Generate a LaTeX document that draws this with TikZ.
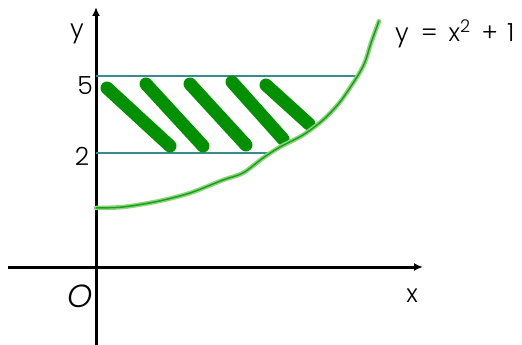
\documentclass[tikz,border=0pt]{standalone}
\usepackage{fontspec}
\setmainfont{Poppins}[UprightFont=* Light,ItalicFont=* Light Italic]
\usetikzlibrary{arrows.meta}
\definecolor{teal1}{HTML}{3A8C8C}
\definecolor{hatch}{HTML}{009000}
\definecolor{curvelight}{HTML}{8AD67A}
\definecolor{curvedark}{HTML}{1E9E1E}
\begin{document}
\begin{tikzpicture}[x=1pt,y=-1pt,
  axis/.style={line width=3pt,-{Latex[length=9pt,width=8pt]}},
  level/.style={teal1,line width=2.5pt},
  hatchstroke/.style={hatch,line width=13pt,line cap=round},
  lbl/.style={inner sep=0pt,font=\fontsize{25}{30}\selectfont,anchor=base}]
\useasboundingbox (0,0) rectangle (522,345);
% axes
\coordinate (ybot) at (96,345);
\coordinate (ytop) at (96,7);
\coordinate (xleft) at (8,267);
\coordinate (xright) at (423,267);
\draw[axis] (ybot) -- (ytop);
\draw[axis] (xleft) -- (xright);
% level lines
\coordinate (l5a) at (96,76);
\coordinate (l5b) at (358,76);
\coordinate (l2a) at (96,153);
\coordinate (l2b) at (272,153);
\draw[level] (l5a) -- (l5b);
\draw[level] (l2a) -- (l2b);
% hatch strokes
\draw[hatchstroke] (107,88) -- (170,146);
\draw[hatchstroke] (146,84) -- (203,146);
\draw[hatchstroke] (190,84) -- (246,145);
\draw[hatchstroke] (232,82) -- (283,139);
\draw[hatchstroke] (266,85) -- (309,124);
% curve
\def\curvepts{(96,208) (123,207) (157,201.5) (190,193) (223,180) (243,173) (263,158) (280,147) (303,135) (323,120) (340,102) (357,77) (365,62) (371,43) (379,21)}
\draw[curvelight,line width=4.5pt,line cap=round] plot[smooth,tension=0.5] coordinates {\curvepts};
\draw[curvedark,line width=1.5pt,line cap=round] plot[smooth,tension=0.5] coordinates {\curvepts};
% labels
\node[lbl] (ylab) at (77,38) {y};
\node[lbl] (five) at (85,94) {5};
\node[lbl] (two) at (82,165) {2};
\node[lbl,anchor=base west] (eq) at (395,42) {y\hspace{12pt}=\hspace{11pt}x\textsuperscript{2}\hspace{11pt}+\hspace{9pt}1};
\node[lbl] (xlab) at (412,302) {x};
\node[lbl,font=\fontsize{32}{36}\selectfont\itshape] (olab) at (80,307) {O};
\end{tikzpicture}
\end{document}
